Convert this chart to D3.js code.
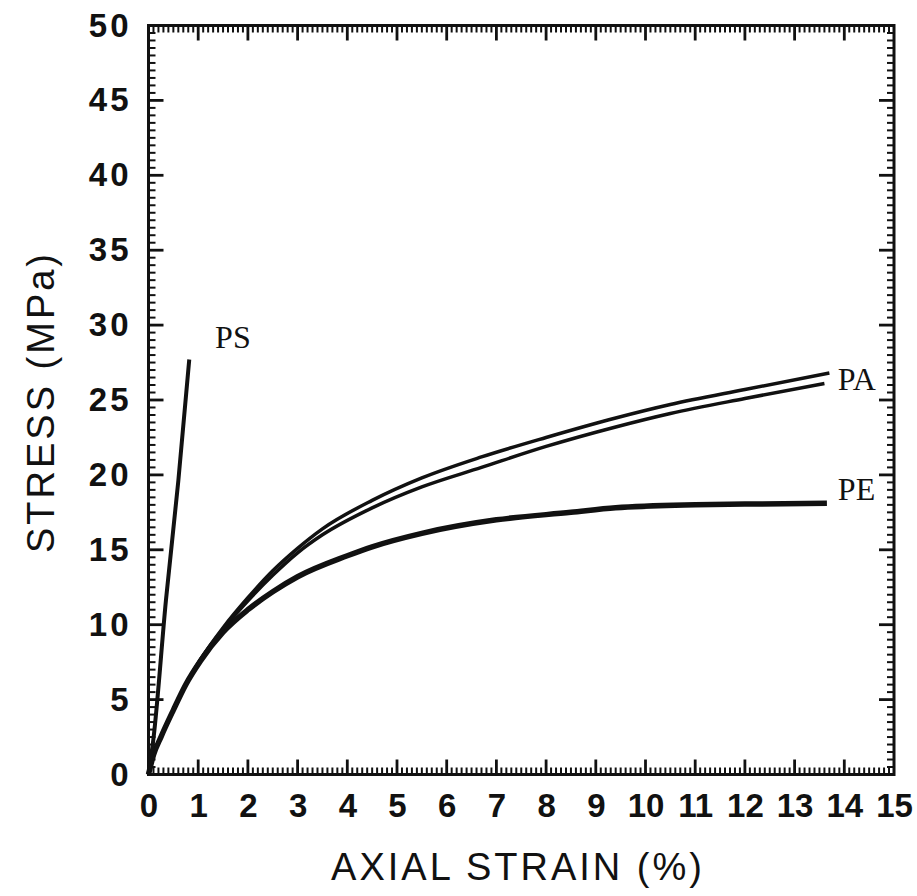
<!DOCTYPE html>
<html>
<head>
<meta charset="utf-8">
<script src="https://cdn.jsdelivr.net/npm/d3@7"></script>
<style>
  body { margin: 0; background: #fff; }
  .tick-label { font-family: "Liberation Sans", Arial, sans-serif; font-weight: bold; font-size: 33px; fill: #111; }
  .axis-title { font-family: "Liberation Sans", Arial, sans-serif; font-size: 38px; fill: #111; letter-spacing: 3px; }
  .curve-label { font-family: "Liberation Serif", "Times New Roman", serif; font-size: 32px; fill: #111; }
</style>
</head>
<body>
<div id="chart"></div>
<script>
// stress-strain data (strain %, stress MPa)
var ps_strain = [0, 0.1, 0.35, 0.6, 0.82];
var ps_stress = [0, 2.4, 11.6, 19.6, 27.7];

var pa1_strain = [0, 0.1, 0.25, 0.5, 0.75, 1.05, 1.5, 2, 2.5, 3, 3.5, 4.5, 5.5, 6.7, 8, 9.4, 10.5, 12, 13.7];
var pa1_stress = [0, 1.3, 2.5, 4.3, 6.0, 7.7, 9.8, 11.8, 13.6, 15.1, 16.4, 18.3, 19.8, 21.2, 22.5, 23.8, 24.7, 25.7, 26.8];

var pa2_strain = [0, 0.1, 0.25, 0.5, 0.75, 1.05, 1.5, 2, 2.5, 3, 3.5, 4.5, 5.5, 6.7, 8, 9.4, 10.5, 12, 13.6];
var pa2_stress = [0, 1.3, 2.5, 4.3, 6.0, 7.7, 9.7, 11.6, 13.3, 14.8, 16.0, 17.8, 19.2, 20.5, 21.9, 23.2, 24.1, 25.1, 26.1];

var pe_strain = [0, 0.1, 0.25, 0.5, 0.75, 1.05, 1.5, 2, 2.5, 3, 4, 4.5, 5.5, 7, 8.5, 9.4, 11, 12, 13.65];
var pe_stress = [0, 1.3, 2.5, 4.3, 6.0, 7.6, 9.5, 11.0, 12.2, 13.2, 14.6, 15.2, 16.1, 17.0, 17.5, 17.8, 18.0, 18.05, 18.1];

var x_ticks = [0, 1, 2, 3, 4, 5, 6, 7, 8, 9, 10, 11, 12, 13, 14, 15];
var y_ticks = [0, 5, 10, 15, 20, 25, 30, 35, 40, 45, 50];

var series_labels = [
  {name: 'PS', strain: 1.34, stress: 28.5},
  {name: 'PA', strain: 13.87, stress: 25.7},
  {name: 'PE', strain: 13.87, stress: 18.3}
];

var width = 917, height = 896;
var plot = {left: 148.5, right: 894, top: 25.5, bottom: 774.5};

var svg = d3.select('#chart').append('svg')
    .attr('width', width)
    .attr('height', height);

var x = d3.scaleLinear().domain([0, 15]).range([plot.left, plot.right]);
var y = d3.scaleLinear().domain([0, 50]).range([plot.bottom, plot.top]);

var x_minor = d3.range(1, 150).filter(function(d) { return d % 10 !== 0; }).map(function(d) { return d / 10; });
var y_minor = d3.range(1, 100).filter(function(d) { return d % 10 !== 0; }).map(function(d) { return d / 2; });
var x_major = x_ticks.slice(1, -1);
var y_major = y_ticks.slice(1, -1);

var g_ticks = svg.append('g')
    .attr('stroke', '#111');

// inward ticks along a horizontal edge
function draw_xticks(values, y0, len, w) {
  g_ticks.append('g').selectAll('line')
    .data(values)
    .enter().append('line')
    .attr('x1', function(d) { return x(d); })
    .attr('x2', function(d) { return x(d); })
    .attr('y1', y0)
    .attr('y2', y0 + len)
    .attr('stroke-width', w);
}

// inward ticks along a vertical edge
function draw_yticks(values, x0, len, w) {
  g_ticks.append('g').selectAll('line')
    .data(values)
    .enter().append('line')
    .attr('y1', function(d) { return y(d); })
    .attr('y2', function(d) { return y(d); })
    .attr('x1', x0)
    .attr('x2', x0 + len)
    .attr('stroke-width', w);
}

draw_xticks(x_minor, plot.bottom, -7, 2);
draw_xticks(x_minor, plot.top, 7, 2);
draw_yticks(y_minor, plot.left, 7, 2);
draw_yticks(y_minor, plot.right, -7, 2);

draw_xticks(x_major, plot.bottom, -15, 2.8);
draw_xticks(x_major, plot.top, 15, 2.8);
draw_yticks(y_major, plot.left, 15, 2.8);
draw_yticks(y_major, plot.right, -15, 2.8);

// tick labels through d3 axes (no lines)
var gx = svg.append('g').attr('transform', 'translate(0,' + plot.bottom + ')')
  .call(d3.axisBottom(x).tickValues(x_ticks).tickSize(0).tickPadding(19).tickFormat(d3.format('d')));
gx.select('.domain').remove();
gx.selectAll('.tick text').attr('class', 'tick-label').attr('font-size', null).attr('font-family', null)
  .attr('fill', '#111');

var gy = svg.append('g').attr('transform', 'translate(' + plot.left + ',0)')
  .call(d3.axisLeft(y).tickValues(y_ticks).tickSize(0).tickPadding(20).tickFormat(d3.format('d')));
gy.select('.domain').remove();
gy.selectAll('.tick text').attr('class', 'tick-label').attr('font-size', null).attr('font-family', null)
  .attr('fill', '#111')
  .style('letter-spacing', '3px').attr('dx', '3px');

// frame
svg.append('rect')
  .attr('x', plot.left)
  .attr('y', plot.top)
  .attr('width', plot.right - plot.left)
  .attr('height', plot.bottom - plot.top)
  .attr('fill', 'none')
  .attr('stroke', '#111')
  .attr('stroke-width', 3);

// curves
var line = d3.line()
  .x(function(d) { return x(d[0]); })
  .y(function(d) { return y(d[1]); })
  .curve(d3.curveMonotoneX);

function draw_curve(xs, ys, w) {
  svg.append('path')
    .datum(d3.zip(xs, ys))
    .attr('d', line)
    .attr('fill', 'none')
    .attr('stroke', '#111')
    .attr('stroke-width', w)
    .attr('stroke-linecap', 'butt')
    .attr('stroke-linejoin', 'round');
}

draw_curve(pe_strain, pe_stress, 5.5);
draw_curve(pa2_strain, pa2_stress, 3.5);
draw_curve(pa1_strain, pa1_stress, 3.5);
draw_curve(ps_strain, ps_stress, 4);

svg.selectAll('.curve-label')
  .data(series_labels)
  .enter().append('text')
  .attr('class', 'curve-label')
  .attr('x', function(d) { return x(d.strain); })
  .attr('y', function(d) { return y(d.stress); })
  .text(function(d) { return d.name; });

// axis titles
svg.append('text')
  .attr('class', 'axis-title')
  .attr('text-anchor', 'middle')
  .attr('x', 518)
  .attr('y', 880)
  .text('AXIAL STRAIN (%)');

svg.append('text')
  .attr('class', 'axis-title')
  .attr('text-anchor', 'middle')
  .attr('transform', 'translate(54,402) rotate(-90)')
  .text('STRESS (MPa)');
</script>
</body>
</html>
